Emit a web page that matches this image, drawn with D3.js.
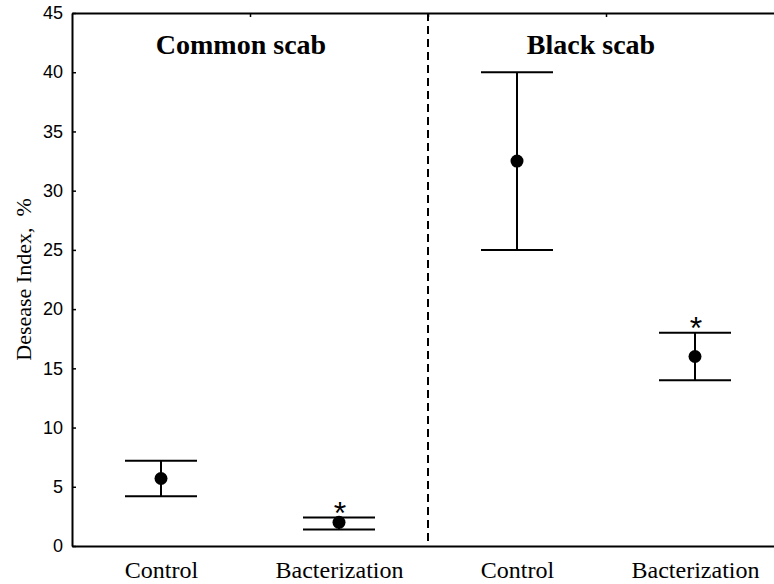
<!DOCTYPE html>
<html>
<head>
<meta charset="utf-8">
<script src="https://cdn.jsdelivr.net/npm/d3@7"></script>
<style>
  html, body { margin: 0; padding: 0; background: #fff; }
  svg { display: block; }
</style>
</head>
<body>
<svg width="774" height="584"></svg>
<script>
// data
const panels = ["Common scab", "Black scab"];
const labels = ["Control", "Bacterization", "Control", "Bacterization"];
const means = [5.7, 2.0, 32.5, 16.0];
const lower = [4.2, 1.4, 25.0, 14.0];
const upper = [7.2, 2.4, 40.0, 18.0];
const signif = [false, true, false, true];
const yTicks = [0, 5, 10, 15, 20, 25, 30, 35, 40, 45];

const svg = d3.select("svg");
const serif = "'Liberation Serif', 'Times New Roman', Times, serif";
const sans = "'Liberation Sans', Arial, sans-serif";

// plot runs past the right edge of the picture, like the original
const x = d3.scaleLinear().domain([0, 4]).range([72, 784]);
const y = d3.scaleLinear().domain([0, 45]).range([546, 13]);

const rows = labels.map((l, i) => ({
  label: l, pos: i + 0.5, mean: means[i], lo: lower[i], hi: upper[i], star: signif[i]
}));

// left axis, ticks pointing inward
const yAxis = svg.append("g")
  .attr("transform", `translate(${x(0)},0)`)
  .call(d3.axisLeft(y).tickValues(yTicks).tickSizeInner(-4).tickSizeOuter(0).tickPadding(9));
yAxis.select(".domain").attr("stroke-width", 2);
yAxis.selectAll(".tick line").attr("stroke-width", 1.5);
yAxis.selectAll("text").attr("font-family", sans).attr("font-size", 18).attr("fill", "#000");

// top axis with ticks between groups
const topAxis = svg.append("g")
  .attr("transform", `translate(0,${y(45)})`)
  .call(d3.axisTop(x).tickValues([1, 2, 3]).tickSizeInner(-4).tickSizeOuter(0).tickFormat(""));
topAxis.select(".domain").attr("stroke-width", 2);
topAxis.selectAll(".tick line").attr("stroke-width", 1.5);

// bottom axis, no ticks
const bottomAxis = svg.append("g")
  .attr("transform", `translate(0,${y(0)})`)
  .call(d3.axisBottom(x).tickValues(rows.map(d => d.pos)).tickSize(0).tickPadding(0)
    .tickFormat((d, i) => labels[i]));
bottomAxis.select(".domain").attr("stroke-width", 2);
bottomAxis.selectAll("text")
  .attr("font-family", serif).attr("font-size", 24).attr("fill", "#000")
  .attr("dy", null).attr("y", 32);

// dashed divider
svg.append("line")
  .attr("x1", x(2)).attr("x2", x(2))
  .attr("y1", y(45)).attr("y2", y(0))
  .attr("stroke", "#000").attr("stroke-width", 2)
  .attr("stroke-dasharray", "8,5");

// panel titles
svg.selectAll(".panel")
  .data(panels)
  .enter()
  .append("text")
  .attr("class", "panel")
  .attr("x", (d, i) => x(i * 2 + 1) + (i === 0 ? -9 : -15))
  .attr("y", 54)
  .attr("text-anchor", "middle")
  .attr("font-family", serif)
  .attr("font-weight", "bold")
  .attr("font-size", 28)
  .text(d => d);

// error bars
const capHalf = 36;
const bars = svg.append("g").selectAll("g")
  .data(rows)
  .enter()
  .append("g");

bars.append("line")
  .attr("x1", d => x(d.pos)).attr("x2", d => x(d.pos))
  .attr("y1", d => y(d.lo)).attr("y2", d => y(d.hi))
  .attr("stroke", "#000").attr("stroke-width", 2);

bars.append("line")
  .attr("x1", d => x(d.pos) - capHalf).attr("x2", d => x(d.pos) + capHalf)
  .attr("y1", d => y(d.hi)).attr("y2", d => y(d.hi))
  .attr("stroke", "#000").attr("stroke-width", 2);

bars.append("line")
  .attr("x1", d => x(d.pos) - capHalf).attr("x2", d => x(d.pos) + capHalf)
  .attr("y1", d => y(d.lo)).attr("y2", d => y(d.lo))
  .attr("stroke", "#000").attr("stroke-width", 2);

bars.append("circle")
  .attr("cx", d => x(d.pos))
  .attr("cy", d => y(d.mean))
  .attr("r", 6.5)
  .attr("fill", "#000");

// significance marks
bars.filter(d => d.star)
  .append("text")
  .attr("x", d => x(d.pos) + 1)
  .attr("y", d => y(d.hi) + 6)
  .attr("text-anchor", "middle")
  .attr("font-family", sans)
  .attr("font-size", 32)
  .text("*");

// y label
svg.append("text")
  .attr("transform", `translate(31,${(y(0) + y(45)) / 2}) rotate(-90)`)
  .attr("text-anchor", "middle")
  .attr("font-family", serif)
  .attr("font-size", 22)
  .style("white-space", "pre")
  .text("Desease Index,  %");
</script>
</body>
</html>
